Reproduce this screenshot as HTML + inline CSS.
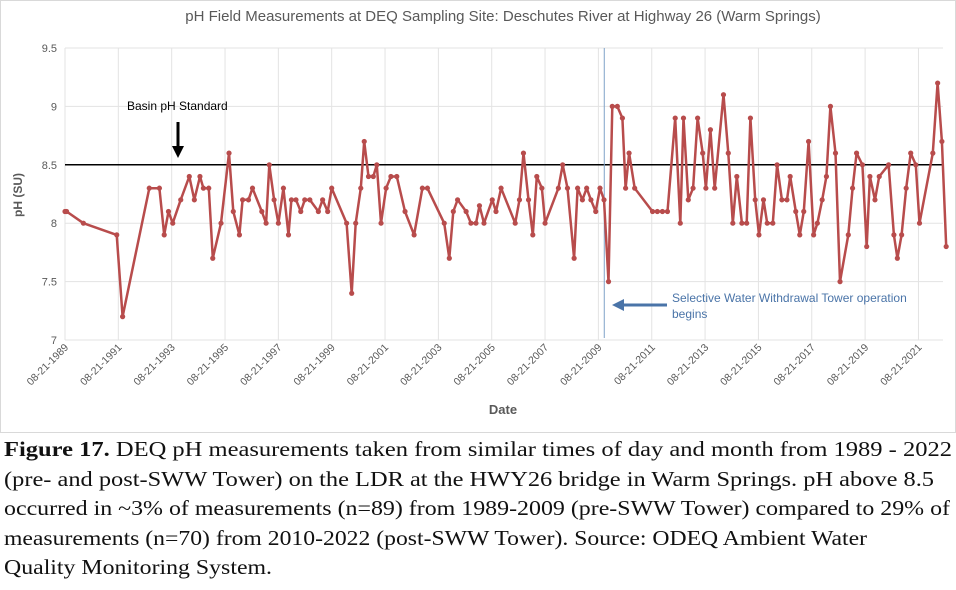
<!DOCTYPE html>
<html><head><meta charset="utf-8"><style>
body{margin:0;width:956px;height:590px;background:#fff;overflow:hidden;font-family:"Liberation Sans",sans-serif}
#cap{position:absolute;left:4px;top:435px;font-family:"Liberation Serif",serif;font-size:21px;line-height:29.5px;color:#111;white-space:nowrap}
#cap span{display:block;width:max-content;transform-origin:0 0}
</style></head><body>
<svg id="chart" width="956" height="436" style="position:absolute;left:0;top:0">
<rect x="0.5" y="0.5" width="955" height="432" fill="#fff" stroke="#d9d9d9"/>
<text x="503" y="21" text-anchor="middle" font-size="15" fill="#595959">pH Field Measurements at DEQ Sampling Site: Deschutes River at Highway 26 (Warm Springs)</text>
<g id="grid"></g><g id="axes"></g>
<text transform="translate(22,195) rotate(-90)" text-anchor="middle" font-size="12" font-weight="bold" fill="#595959">pH (SU)</text>
<text x="503" y="414" text-anchor="middle" font-size="13" font-weight="bold" fill="#595959">Date</text>
<line id="stdline" stroke="#000" stroke-width="1.5"/>
<line id="swwline" stroke="#7fa2c8" stroke-width="1"/>
<g id="series"></g>
<text x="127" y="110" font-size="12" fill="#000">Basin pH Standard</text>
<g><line x1="178" y1="122" x2="178" y2="148" stroke="#000" stroke-width="3"/><polygon points="172,146 184,146 178,158" fill="#000"/></g>
<g><line x1="622" y1="305" x2="667" y2="305" stroke="#4a74a8" stroke-width="3"/><polygon points="612,305 624,299 624,311" fill="#4a74a8"/></g>
<text font-size="12" fill="#4a74a8"><tspan x="672" y="302">Selective Water Withdrawal Tower operation</tspan><tspan x="672" y="318">begins</tspan></text>
</svg>
<div id="cap">
<span data-w="948"><b>Figure 17.</b> DEQ pH measurements taken from similar times of day and month from 1989 - 2022</span>
<span data-w="930">(pre- and post-SWW Tower) on the LDR at the HWY26 bridge in Warm Springs. pH above 8.5</span>
<span data-w="946">occurred in ~3% of measurements (n=89) from 1989-2009 (pre-SWW Tower) compared to 29% of</span>
<span data-w="863">measurements (n=70) from 2010-2022 (post-SWW Tower). Source: ODEQ Ambient Water</span>
<span data-w="268">Quality Monitoring System.</span>
</div>
<script>
// years since 08-21-1989
const years=[0,0.06,0.69,1.94,2.16,3.16,3.54,3.72,3.88,4.04,4.34,4.66,4.85,5.06,5.19,5.39,5.54,5.85,6.15,6.31,6.54,6.66,6.88,7.03,7.38,7.54,7.66,7.84,8.0,8.19,8.38,8.49,8.66,8.84,8.99,9.18,9.5,9.66,9.85,10.0,10.56,10.75,10.9,11.09,11.22,11.38,11.56,11.69,11.85,12.04,12.22,12.44,12.75,13.09,13.4,13.59,14.22,14.41,14.56,14.72,15.04,15.22,15.41,15.54,15.71,16.02,16.16,16.35,16.88,17.04,17.19,17.38,17.54,17.69,17.88,18.0,18.5,18.66,18.84,19.09,19.22,19.4,19.56,19.72,19.9,20.06,20.21,20.38,20.52,20.71,20.9,21.02,21.15,21.36,22.03,22.21,22.4,22.59,22.88,23.07,23.19,23.37,23.55,23.72,23.91,24.03,24.2,24.36,24.69,24.87,25.04,25.19,25.38,25.56,25.7,25.88,26.02,26.19,26.33,26.54,26.7,26.88,27.07,27.19,27.4,27.55,27.7,27.88,28.07,28.21,28.39,28.55,28.7,28.89,29.06,29.37,29.53,29.68,29.9,30.06,30.18,30.37,30.53,30.88,31.08,31.21,31.37,31.54,31.71,31.9,32.04,32.54,32.72,32.88,33.04];
const phValues=[8.1,8.1,8.0,7.9,7.2,8.3,8.3,7.9,8.1,8.0,8.2,8.4,8.2,8.4,8.3,8.3,7.7,8.0,8.6,8.1,7.9,8.2,8.2,8.3,8.1,8.0,8.5,8.2,8.0,8.3,7.9,8.2,8.2,8.1,8.2,8.2,8.1,8.2,8.1,8.3,8.0,7.4,8.0,8.3,8.7,8.4,8.4,8.5,8.0,8.3,8.4,8.4,8.1,7.9,8.3,8.3,8.0,7.7,8.1,8.2,8.1,8.0,8.0,8.15,8.0,8.2,8.1,8.3,8.0,8.2,8.6,8.2,7.9,8.4,8.3,8.0,8.3,8.5,8.3,7.7,8.3,8.2,8.3,8.2,8.1,8.3,8.2,7.5,9.0,9.0,8.9,8.3,8.6,8.3,8.1,8.1,8.1,8.1,8.9,8.0,8.9,8.2,8.3,8.9,8.6,8.3,8.8,8.3,9.1,8.6,8.0,8.4,8.0,8.0,8.9,8.2,7.9,8.2,8.0,8.0,8.5,8.2,8.2,8.4,8.1,7.9,8.1,8.7,7.9,8.0,8.2,8.4,9.0,8.6,7.5,7.9,8.3,8.6,8.5,7.8,8.4,8.2,8.4,8.5,7.9,7.7,7.9,8.3,8.6,8.5,8.0,8.6,9.2,8.7,7.8];
const yTicks=[7,7.5,8,8.5,9,9.5];
const yTickLabels=["7","7.5","8","8.5","9","9.5"];
const xTickYears=[0,2,4,6,8,10,12,14,16,18,20,22,24,26,28,30,32];
const xTickLabels=["08-21-1989","08-21-1991","08-21-1993","08-21-1995","08-21-1997","08-21-1999","08-21-2001","08-21-2003","08-21-2005","08-21-2007","08-21-2009","08-21-2011","08-21-2013","08-21-2015","08-21-2017","08-21-2019","08-21-2021"];
const standard=[8.5];
const towerStart=[20.22];
const NS="http://www.w3.org/2000/svg";
const L=65,R=943,T=48,B=340;
function xs(t){return L+t*26.67;}
function ys(v){return B-(v-7)/2.5*(B-T);}
function mk(tag,attrs,parent){const e=document.createElementNS(NS,tag);for(const k in attrs)e.setAttribute(k,attrs[k]);parent.appendChild(e);return e;}
const grid=document.getElementById('grid'),axes=document.getElementById('axes'),ser=document.getElementById('series');
yTicks.forEach((v,i)=>{
 const g=mk('line',{x1:L,x2:R,y1:ys(v),y2:ys(v),stroke:'#e3e3e3'},grid);
 
 
 const t=mk('text',{x:L-8,y:ys(v)+4,'text-anchor':'end','font-size':'11',fill:'#595959'},axes);
 t.textContent=yTickLabels[i];
 
 
});
xTickYears.forEach((yr,i)=>{
 const g=mk('line',{x1:xs(yr),x2:xs(yr),y1:T,y2:B,stroke:'#e3e3e3'},grid);
 
 
 const x=xs(yr)+4,y=B+8;
 const t=mk('text',{x:x,y:y,'text-anchor':'end','font-size':'10.5',fill:'#595959',transform:`rotate(-45 ${x} ${y})`},axes);
 t.textContent=xTickLabels[i];
 
 
});
const sl=document.getElementById('stdline');
sl.setAttribute('x1',L);sl.setAttribute('x2',R);sl.setAttribute('y1',ys(standard[0]));sl.setAttribute('y2',ys(standard[0]));
const wl=document.getElementById('swwline');
wl.setAttribute('x1',xs(towerStart[0]));wl.setAttribute('x2',xs(towerStart[0]));wl.setAttribute('y1',T);wl.setAttribute('y2',B-2);
const pts=years.map((t,i)=>xs(t).toFixed(1)+','+ys(phValues[i]).toFixed(1)).join(' ');
const pl=mk('polyline',{points:pts,fill:'none',stroke:'#b84c4c','stroke-width':'2.5','stroke-linejoin':'round'},ser);


years.forEach((t,i)=>{
 const c=mk('circle',{cx:xs(t),cy:ys(phValues[i]),r:2.6,fill:'#b84c4c'},ser);
 
 
});
document.querySelectorAll('#cap span').forEach(s=>{
 
 
 const w=s.getBoundingClientRect().width;
 s.style.transform='scaleX('+(parseFloat(s.dataset.w)/w)+')';
});
</script>
</body></html>
